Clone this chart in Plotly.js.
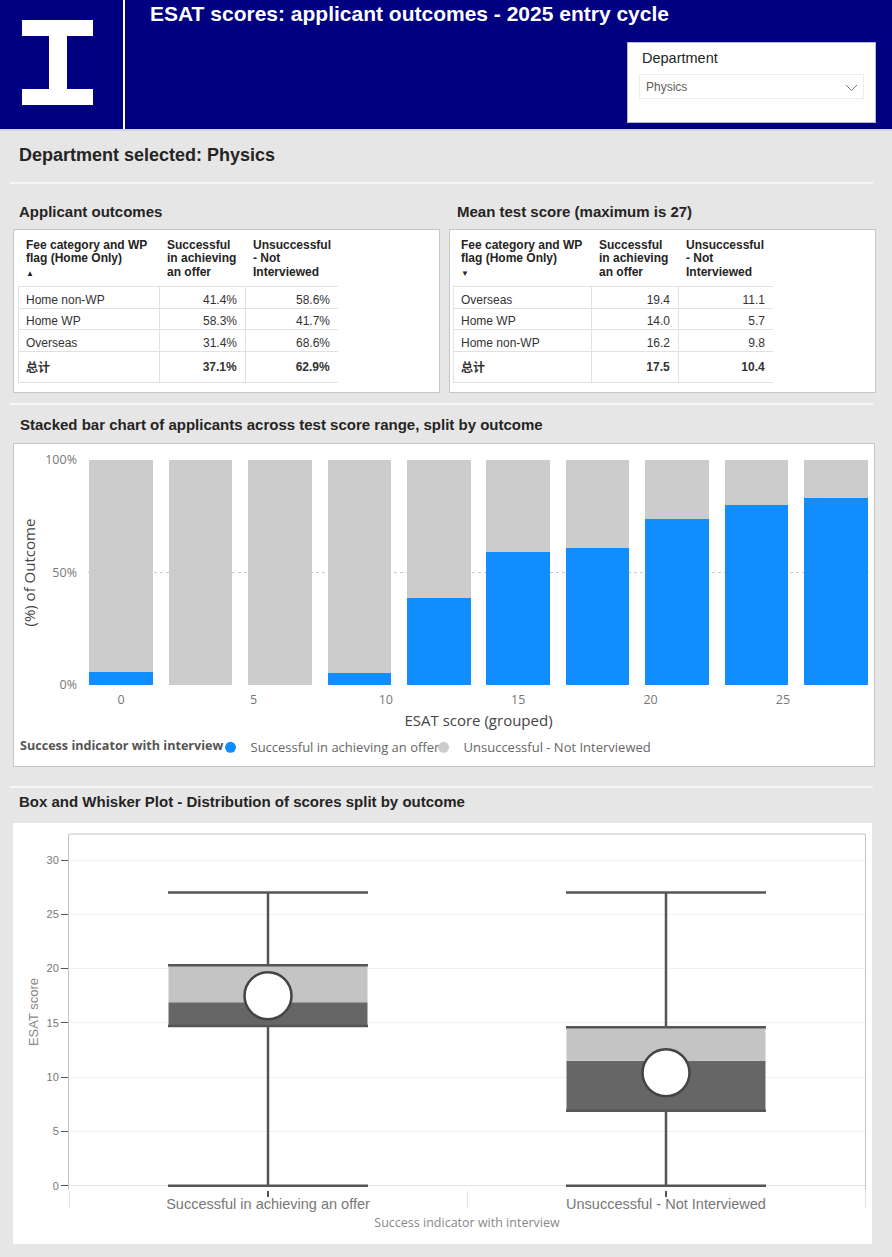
<!DOCTYPE html>
<html>
<head>
<meta charset="utf-8">
<script src="https://cdn.plot.ly/plotly-3.0.1.min.js"></script>
<style>
  html, body { margin: 0; padding: 0; }
  body {
    width: 892px; height: 1257px; position: relative; overflow: hidden;
    background: #e6e6e6;
    font-family: "Liberation Sans", "Noto Sans CJK SC", sans-serif;
  }
  .abs { position: absolute; }
  .white { background: #ffffff; }
  #banner { left: 0; top: 0; width: 892px; height: 129px; background: #000080; }
  #bannerEdge { left: 0; top: 129px; width: 892px; height: 2px; background: #d3d4ea; }
  #divider { left: 123px; top: 0; width: 2px; height: 130px; background: #ffffff; }
  #title { left: 150px; top: 2px; color: #ffffff; font-weight: bold; font-size: 21px; line-height: 24px; white-space: nowrap; }
  #slicer { left: 627px; top: 42px; width: 249px; height: 81px; box-sizing: border-box; background: #fff; border: 1px solid #b8b8c8; }
  #slicerLabel { left: 14px; top: 4px; font-size: 14.5px; line-height: 22px; color: #252423; }
  #dropdown { left: 11px; top: 31px; width: 225px; height: 25px; box-sizing: border-box; border: 1px solid #ececec; }
  #dropdownText { left: 6px; top: 3px; font-size: 12px; line-height: 18px; color: #605e5c; }
  #dropdown svg { position: absolute; left: 205px; top: 9px; }
  .sep { left: 10px; width: 863px; height: 2px; background: #f7f7f7; }
  .heading { font-weight: bold; color: #252423; white-space: nowrap; font-size: 15px; line-height: 20px; }
  .panel { box-sizing: border-box; background: #ffffff; }
  .bordered { border: 1px solid #c6c6c6; }
</style>
</head>
<body>
<div id="banner" class="abs">
  <div class="abs white" style="left:22px;top:20px;width:71px;height:16px;"></div>
  <div class="abs white" style="left:49px;top:35px;width:18px;height:55px;"></div>
  <div class="abs white" style="left:22px;top:89px;width:71px;height:16px;"></div>
  <div id="title" class="abs">ESAT scores: applicant outcomes - 2025 entry cycle</div>
  <div id="slicer" class="abs">
    <div id="slicerLabel" class="abs">Department</div>
    <div id="dropdown" class="abs">
      <div id="dropdownText" class="abs">Physics</div>
      <svg width="14" height="8"><polyline points="1,1 6.5,6.5 12,1" fill="none" stroke="#777" stroke-width="1"/></svg>
    </div>
  </div>
</div>
<div id="divider" class="abs"></div>
<div id="bannerEdge" class="abs"></div>

<div class="abs heading" style="left:19px;top:144px;font-size:18px;line-height:22px;">Department selected: Physics</div>
<div class="abs sep" style="top:182px;"></div>

<div class="abs heading" style="left:19px;top:202px;">Applicant outcomes</div>
<div class="abs heading" style="left:457px;top:202px;">Mean test score (maximum is 27)</div>
<div class="abs panel bordered" style="left:13px;top:229px;width:427px;height:164px;"></div>
<div class="abs panel bordered" style="left:449px;top:229px;width:427px;height:164px;"></div>
<div id="outcomeTable" class="abs" style="left:18px;top:230px;width:320px;height:160px;"></div>
<div id="meanTable" class="abs" style="left:453px;top:230px;width:320px;height:160px;"></div>

<div class="abs sep" style="top:403px;"></div>
<div class="abs heading" style="left:20px;top:415px;">Stacked bar chart of applicants across test score range, split by outcome</div>
<div class="abs panel bordered" style="left:13px;top:443px;width:862px;height:324px;"></div>
<div id="stackedChart" class="abs" style="left:14px;top:444px;width:860px;height:322px;"></div>

<div class="abs sep" style="top:786px;"></div>
<div class="abs heading" style="left:19px;top:792px;">Box and Whisker Plot - Distribution of scores split by outcome</div>
<div class="abs panel" style="left:13px;top:823px;width:859px;height:421px;"></div>
<div id="boxChart" class="abs" style="left:13px;top:823px;width:859px;height:421px;"></div>

<script>
// ---- Applicant outcomes table ----
const outcomeCategories = ['Home non-WP', 'Home WP', 'Overseas', '总计'];
const outcomeOfferPct = [41.4, 58.3, 31.4, 37.1];
const outcomeNotInterviewedPct = [58.6, 41.7, 68.6, 62.9];

// ---- Mean test score table ----
const meanCategories = ['Overseas', 'Home WP', 'Home non-WP', '总计'];
const meanOfferScore = [19.4, 14.0, 16.2, 17.5];
const meanNotInterviewedScore = [11.1, 5.7, 9.8, 10.4];

// ---- Stacked bar chart (share of applicants per score group, %) ----
const scoreGroups = [0, 3, 6, 9, 12, 15, 18, 21, 24, 27];
const offerShare = [5.6, 0, 0, 5.3, 38.8, 59.0, 60.9, 73.7, 80.1, 83.2];
const notInterviewedShare = [94.4, 100, 100, 94.7, 61.2, 41.0, 39.1, 26.3, 19.9, 16.8];
const percentTicks = [0, 50, 100];
const scoreTicks = [0, 5, 10, 15, 20, 25];

// ---- Box and whisker summary per outcome ----
const outcomes = ['Successful in achieving an offer', 'Unsuccessful - Not Interviewed'];
const scoreMin = [0, 0];
const scoreQ1 = [14.7, 6.9];
const scoreMedian = [16.9, 11.5];
const scoreQ3 = [20.3, 14.6];
const scoreMax = [27, 27];
const scoreMean = [17.5, 10.4];
const boxScoreTicks = [0, 5, 10, 15, 20, 25, 30];

const OFFER_BLUE = '#118DFF';
const NOT_INTERVIEWED_GREY = '#CCCCCC';
const TABLE_FONT = 'Liberation Sans, Noto Sans CJK SC, sans-serif';
const VISUAL_FONT = 'Open Sans, Noto Sans, sans-serif';
const config = { staticPlot: true, displayModeBar: false };

function fmt(values, digits, suffix) {
  const last = values.length - 1;
  return values.map((v, i) => {
    const s = v.toFixed(digits) + suffix;
    return i === last ? '<b>' + s + '</b>' : s;
  });
}
function boldLast(labels) {
  const last = labels.length - 1;
  return labels.map((s, i) => (i === last ? '<b>' + s + '</b>' : s));
}
// header lines use 12px glyphs on a tighter line pitch
function headerText(lines) {
  return lines.map(l => '<span style="font-size:12px">' + l + '</span>').join('<br>');
}

function drawTable(id, categories, colA, colB, digits, suffix, arrow, widths) {
  const header = [
    headerText(['<b>Fee category and WP</b>', '<b>flag (Home Only)</b>']) +
      '<br><span style="font-size:8px">' + arrow + '</span>',
    headerText(['<b>Successful</b>', '<b>in achieving</b>', '<b>an offer</b>']),
    headerText(['<b>Unsuccessful</b>', '<b>- Not</b>', '<b>Interviewed</b>'])
  ];
  Plotly.newPlot(id, [{
    type: 'table',
    columnwidth: widths,
    header: {
      values: header,
      align: 'left',
      height: 50,
      font: { family: TABLE_FONT, size: 10.3, color: '#252423' },
      fill: { color: 'rgba(0,0,0,0)' },
      line: { color: 'rgba(0,0,0,0)', width: 1 }
    },
    cells: {
      values: [boldLast(categories), fmt(colA, digits, suffix), fmt(colB, digits, suffix)],
      align: ['left', 'right', 'right'],
      height: 21.6,
      font: { family: TABLE_FONT, size: 12, color: '#333333' },
      fill: { color: 'rgba(0,0,0,0)' },
      line: { color: '#e1e1e1', width: 1 }
    },
    domain: { x: [0, 1], y: [0, 1] }
  }], {
    width: 320, height: 160,
    margin: { l: 0, r: 0, t: 0, b: 0 },
    paper_bgcolor: 'rgba(0,0,0,0)'
  }, config);
}

drawTable('outcomeTable', outcomeCategories, outcomeOfferPct, outcomeNotInterviewedPct, 1, '%', '▲', [141, 86, 93]);
drawTable('meanTable', meanCategories, meanOfferScore, meanNotInterviewedScore, 1, '', '▼', [138, 87, 95]);

// ---- Stacked 100% bar chart ----
const LEGEND_COMMON = {
  orientation: 'h', xref: 'container', yref: 'container', y: 0.058,
  xanchor: 'left', yanchor: 'middle', bgcolor: 'rgba(0,0,0,0)',
  font: { family: VISUAL_FONT, size: 13, color: '#666666' }, itemwidth: 30
};
Plotly.newPlot('stackedChart', [
  { type: 'bar', x: scoreGroups, y: offerShare, name: 'Successful in achieving an offer',
    marker: { color: OFFER_BLUE }, showlegend: false },
  { type: 'bar', x: scoreGroups, y: notInterviewedShare, name: 'Unsuccessful - Not Interviewed',
    marker: { color: NOT_INTERVIEWED_GREY }, showlegend: false },
  // legend entries with round swatches
  { type: 'scatter', mode: 'markers', x: [null], y: [null], name: 'Successful in achieving an offer',
    marker: { color: OFFER_BLUE, size: 11 }, legend: 'legend' },
  { type: 'scatter', mode: 'markers', x: [null], y: [null], name: 'Unsuccessful - Not Interviewed',
    marker: { color: NOT_INTERVIEWED_GREY, size: 11 }, legend: 'legend2' }
], {
  width: 860, height: 322,
  margin: { l: 74, r: 5, t: 15, b: 80 },
  paper_bgcolor: '#ffffff', plot_bgcolor: '#ffffff',
  barmode: 'stack', bargap: 0.2,
  font: { family: VISUAL_FONT },
  xaxis: {
    range: [-1.25, 28.25], tickvals: scoreTicks, showgrid: false, zeroline: false, ticks: '',
    ticklabelstandoff: 4,
    tickfont: { family: VISUAL_FONT, size: 12.5, color: '#777777' },
    title: { text: 'ESAT score (grouped)', font: { family: VISUAL_FONT, size: 15, color: '#444444' }, standoff: 8 }
  },
  yaxis: {
    range: [-0.4, 100.4], tickvals: percentTicks, ticktext: percentTicks.map(v => v + '%'),
    zeroline: false,
    showgrid: true, gridcolor: '#c8c8c8', griddash: 'dot', gridwidth: 1,
    ticklabelstandoff: 10,
    tickfont: { family: VISUAL_FONT, size: 12.5, color: '#777777' }
  },
  annotations: [
    { text: '(%) of Outcome', showarrow: false, textangle: -90,
      xref: 'paper', yref: 'paper', x: -0.0768, y: 0.5, xanchor: 'center', yanchor: 'middle',
      font: { family: VISUAL_FONT, size: 15, color: '#444444' } },
    { text: '<b>Success indicator with interview</b>', showarrow: false,
      xref: 'paper', yref: 'paper', x: -0.0896, y: -0.264, xanchor: 'left', yanchor: 'middle',
      font: { family: VISUAL_FONT, size: 12.6, color: '#555555' } }
  ],
  showlegend: true,
  legend: Object.assign({ x: 0.2285 }, LEGEND_COMMON),
  legend2: Object.assign({ x: 0.4762 }, LEGEND_COMMON)
}, config);

// ---- Box and whisker chart ----
const lowerHalf = scoreMedian.map((m, i) => m - scoreQ1[i]);
const upperHalf = scoreQ3.map((q, i) => q - scoreMedian[i]);
const upperWhisker = scoreMax.map((m, i) => m - scoreQ3[i]);
const lowerWhisker = scoreQ1.map((q, i) => q - scoreMin[i]);
const noExtent = outcomes.map(() => 0);
const WHISKER = { type: 'data', symmetric: false, width: 100, thickness: 2.5, color: '#555555' };

Plotly.newPlot('boxChart', [
  { type: 'bar', x: outcomes, base: scoreQ1, y: lowerHalf, width: 0.5,
    marker: { color: '#666666' }, showlegend: false },
  { type: 'bar', x: outcomes, base: scoreMedian, y: upperHalf, width: 0.5,
    marker: { color: '#c4c4c4' }, showlegend: false },
  { type: 'scatter', mode: 'markers', x: outcomes, y: scoreQ3, showlegend: false,
    marker: { size: 1, color: 'rgba(0,0,0,0)' },
    error_y: Object.assign({ array: upperWhisker, arrayminus: noExtent }, WHISKER) },
  { type: 'scatter', mode: 'markers', x: outcomes, y: scoreQ1, showlegend: false,
    marker: { size: 1, color: 'rgba(0,0,0,0)' },
    error_y: Object.assign({ array: noExtent, arrayminus: lowerWhisker }, WHISKER) },
  { type: 'scatter', mode: 'markers', x: outcomes, y: scoreMean, xaxis: 'x2', showlegend: false,
    marker: { size: 47, color: '#ffffff', line: { color: '#444444', width: 2.5 } } }
], {
  width: 859, height: 421,
  margin: { l: 56, r: 7, t: 11, b: 54 },
  paper_bgcolor: '#ffffff', plot_bgcolor: '#ffffff',
  barmode: 'overlay', showlegend: false,
  font: { family: TABLE_FONT },
  xaxis: {
    type: 'category', categoryorder: 'array', categoryarray: outcomes, range: [-0.5, 1.5],
    showgrid: false, zeroline: false, showline: false,
    ticks: 'outside', ticklen: 6, tickcolor: '#555555', tickwidth: 1.5,
    ticklabelstandoff: -5,
    tickfont: { family: TABLE_FONT, size: 14.5, color: '#777777' },
    title: { text: 'Success indicator with interview', font: { family: VISUAL_FONT, size: 12.5, color: '#888888' }, standoff: 6 }
  },
  xaxis2: {
    type: 'category', categoryorder: 'array', categoryarray: outcomes, range: [-0.5, 1.5],
    overlaying: 'x', anchor: 'y', side: 'bottom', tickson: 'boundaries',
    ticks: 'outside', ticklen: 17, tickcolor: '#e2e2e2', showticklabels: false,
    showgrid: false, zeroline: false, showline: false
  },
  yaxis: {
    range: [-0.4, 32.4], tickvals: boxScoreTicks,
    ticks: 'outside', ticklen: 7, tickcolor: '#555555', tickwidth: 1,
    tickfont: { family: TABLE_FONT, size: 11, color: '#777777' },
    showgrid: true, gridcolor: '#f0f0f0', zeroline: true, zerolinecolor: '#e4e4e4', zerolinewidth: 1,
    showline: true, mirror: true, linecolor: '#c4c4c4', linewidth: 1,
    title: { text: 'ESAT score', font: { family: TABLE_FONT, size: 13, color: '#888888' }, standoff: 4 }
  },
  shapes: [{ type: 'line', xref: 'paper', yref: 'paper', x0: 0, x1: 1, y0: 1, y1: 1,
             line: { color: '#c4c4c4', width: 1 } }]
}, config);
</script>
</body>
</html>
